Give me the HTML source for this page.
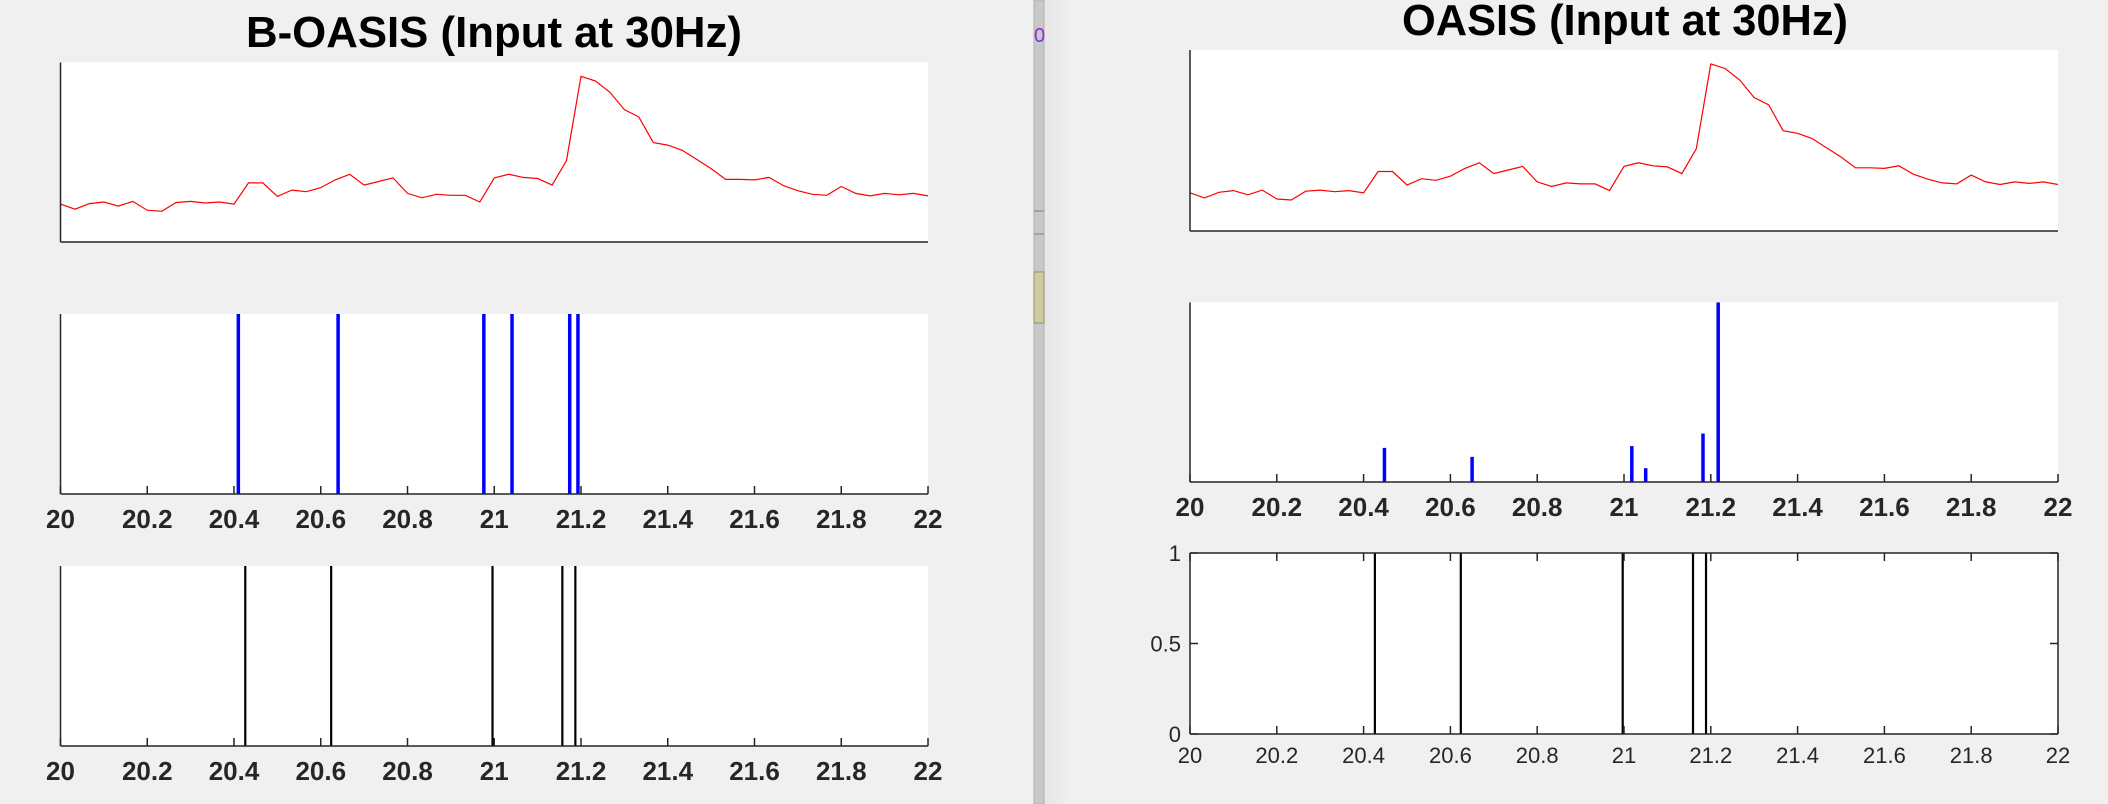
<!DOCTYPE html>
<html><head><meta charset="utf-8"><style>
html,body{margin:0;padding:0;background:#f0f0f0;}
svg{display:block;font-family:"Liberation Sans",Arial,sans-serif;}
</style></head><body>
<svg id="fig" width="2108" height="804" viewBox="0 0 2108 804" xmlns="http://www.w3.org/2000/svg">
<defs><linearGradient id="edge" x1="0" x2="1" y1="0" y2="0"><stop offset="0" stop-color="#e6e6e6"/><stop offset="1" stop-color="#f0f0f0"/></linearGradient></defs>
<rect x="0" y="0" width="2108" height="804" fill="#f0f0f0"/>
<rect x="1044" y="0" width="30" height="804" fill="url(#edge)"/>
<rect x="1034" y="0" width="10" height="804" fill="#c8c8c8" stroke="#b0b0b0" stroke-width="1"/>
<rect x="1034" y="210" width="10" height="2" fill="#9aa4ad"/>
<rect x="1034" y="233" width="10" height="2" fill="#9aa4ad"/>
<rect x="1034" y="272" width="10" height="51" fill="#cccc9e" stroke="#8f8f70" stroke-width="1"/>
<text x="1034" y="42" font-size="20" fill="#8a2be2">0</text>
<text x="494" y="47" text-anchor="middle" font-size="44" font-weight="bold" textLength="496" lengthAdjust="spacingAndGlyphs">B-OASIS (Input at 30Hz)</text>
<text x="1625" y="35" text-anchor="middle" font-size="44" font-weight="bold" textLength="446" lengthAdjust="spacingAndGlyphs">OASIS (Input at 30Hz)</text>
<g id="plots"></g>
</svg>
<script>
const trace = [21.1,18.3,21.4,22.3,20,22.6,17.7,17.1,22,22.6,21.7,22.3,21.1,32.9,32.9,25.4,28.9,28,30.3,34.6,37.7,31.7,33.7,35.7,27.1,24.6,26.6,26,26,22.3,35.7,37.7,36,35.4,31.7,45.4,92.3,89.7,83.4,73.7,69.7,55.4,54,51.1,46,40.9,34.9,34.9,34.6,36,31.4,28.6,26.6,26,30.9,27.1,25.7,27.1,26.3,27.1,25.7];
const bSpikeTimes = [20.41,20.64,20.976,21.041,21.174,21.193];
const bSpikeVals = [1,1,1,1,1,1];
const oSpikeTimes = [20.448,20.65,21.018,21.05,21.182,21.217];
const oSpikeVals = [0.19,0.14,0.2,0.077,0.27,1.0];
const trueSpikesLeft = [20.426,20.624,20.996,21.157,21.187];
const trueSpikesRight = [20.426,20.624,20.997,21.159,21.189];
const xTicks = [20,20.2,20.4,20.6,20.8,21,21.2,21.4,21.6,21.8,22];
const xTickLabels = ["20","20.2","20.4","20.6","20.8","21","21.2","21.4","21.6","21.8","22"];
const yTicks = [0,0.5,1];
const yTickLabels = ["0","0.5","1"];
const t0 = 20, fs = 30;

const NS="http://www.w3.org/2000/svg";
const root=document.getElementById('plots');
function mk(tag,attrs,parent){const e=document.createElementNS(NS,tag);for(const k in attrs)e.setAttribute(k,attrs[k]);(parent||root).appendChild(e);return e;}
function axes(x0,x1,y0,y1,ymin,ymax){
  return {sx:v=>x0+(v-20)/(22-20)*(x1-x0), sy:v=>y1-(v-ymin)/(ymax-ymin)*(y1-y0), x0,x1,y0,y1};
}
function box(a,name){
  const r=mk('rect',{x:a.x0,y:a.y0,width:a.x1-a.x0,height:a.y1-a.y0,fill:'#fff'});
  
  
}
function axisLines(a,name,full){
  const g=mk('g',{stroke:'#262626','stroke-width':1.5,fill:'none'});
  
  
  mk('line',{x1:a.x0,y1:a.y1,x2:a.x1,y2:a.y1},g);
  mk('line',{x1:a.x0,y1:a.y0,x2:a.x0,y2:a.y1},g);
  if(full){mk('line',{x1:a.x0,y1:a.y0,x2:a.x1,y2:a.y0},g);mk('line',{x1:a.x1,y1:a.y0,x2:a.x1,y2:a.y1},g);}
}
function xTicksDraw(a,name,bold,size,ly,top){
  const g=mk('g',{});
  
  
  xTicks.forEach((v,i)=>{
    const x=a.sx(v);
    mk('line',{x1:x,y1:a.y1,x2:x,y2:a.y1-8,stroke:'#262626','stroke-width':1.5},g);
    if(top) mk('line',{x1:x,y1:a.y0,x2:x,y2:a.y0+8,stroke:'#262626','stroke-width':1.5},g);
    const t=mk('text',{x:x,y:ly,'text-anchor':'middle','font-size':size,'font-weight':bold?'bold':'normal',fill:'#262626'},g);
    t.textContent=xTickLabels[i];
    
    
  });
}
function tracePlot(a,name){
  const pts=trace.map((v,i)=>a.sx(t0+i/fs).toFixed(1)+','+a.sy(v).toFixed(1)).join(' ');
  const p=mk('polyline',{points:pts,fill:'none',stroke:'#ff0000','stroke-width':1.2});
  
  
}
function spikes(a,times,vals,color,w,name){
  const g=mk('g',{});
  
  
  times.forEach((t,i)=>{
    const x=a.sx(t);
    const l=mk('line',{x1:x,y1:a.y1,x2:x,y2:a.sy(vals[i]),stroke:color,'stroke-width':w},g);
    
    
  });
}
// Left panel
const L1=axes(60.5,928,62.5,242,0,100);
box(L1,'left-trace-axes'); tracePlot(L1,'left-fluorescence-trace'); axisLines(L1,'left-trace-axis-lines');
const L2=axes(60.5,928,314,494,0,1);
box(L2,'left-inferred-axes'); spikes(L2,bSpikeTimes,bSpikeVals,'#0000ff',3.5,'left-inferred-spikes'); axisLines(L2,'left-inferred-axis-lines'); xTicksDraw(L2,'left-inferred-x-ticks',true,26,528);
const L3=axes(60.5,928,566,746,0,1);
box(L3,'left-true-axes'); spikes(L3,trueSpikesLeft,trueSpikesLeft.map(()=>1),'#000',2.2,'left-true-spikes'); axisLines(L3,'left-true-axis-lines'); xTicksDraw(L3,'left-true-x-ticks',true,26,780);
// Right panel
const R1=axes(1190,2058,50,231,0,100);
box(R1,'right-trace-axes'); tracePlot(R1,'right-fluorescence-trace'); axisLines(R1,'right-trace-axis-lines');
const R2=axes(1190,2058,302.5,482,0,1);
box(R2,'right-inferred-axes'); spikes(R2,oSpikeTimes,oSpikeVals,'#0000ff',3.5,'right-inferred-spikes'); axisLines(R2,'right-inferred-axis-lines'); xTicksDraw(R2,'right-inferred-x-ticks',true,26,516);
const R3=axes(1190,2058,553,734,0,1);
box(R3,'right-true-axes'); spikes(R3,trueSpikesRight,trueSpikesRight.map(()=>1),'#000',2.2,'right-true-spikes'); axisLines(R3,'right-true-axis-lines',true); xTicksDraw(R3,'right-true-x-ticks',false,22,763,true);
const yg=mk('g',{});


yTicks.forEach((v,i)=>{
  const y=R3.sy(v);
  mk('line',{x1:R3.x0,y1:y,x2:R3.x0+8,y2:y,stroke:'#262626','stroke-width':1.5},yg);
  mk('line',{x1:R3.x1,y1:y,x2:R3.x1-8,y2:y,stroke:'#262626','stroke-width':1.5},yg);
  const t=mk('text',{x:1181,y:y+8,'text-anchor':'end','font-size':22,fill:'#262626'},yg);
  t.textContent=yTickLabels[i];
  
  
});
</script>
</body></html>
